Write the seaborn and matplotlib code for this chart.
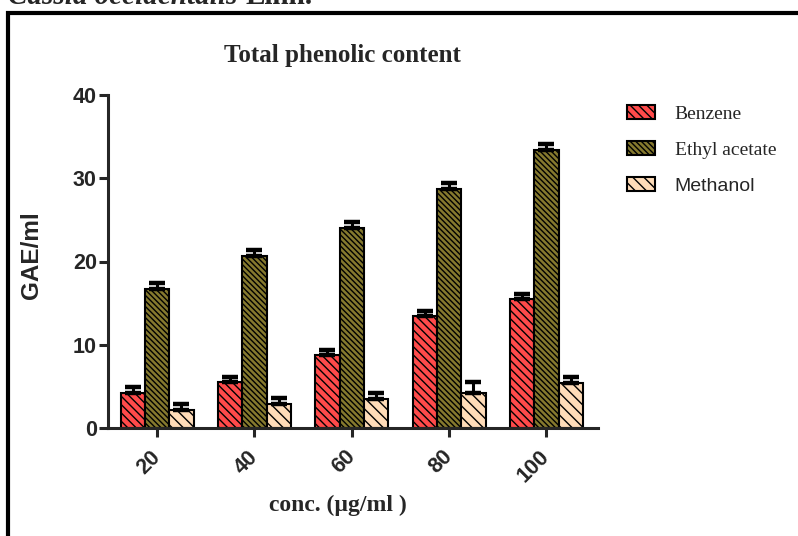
import matplotlib
matplotlib.use("Agg")
import matplotlib.pyplot as plt
import seaborn as sns
import pandas as pd
from matplotlib.patches import Rectangle

# ---- data ----
concentrations = ["20", "40", "60", "80", "100"]
solvents = ["Benzene", "Ethyl acetate", "Methanol"]
benzene = [4.2, 5.5, 8.8, 13.5, 15.5]
ethyl_acetate = [16.7, 20.7, 24.0, 28.7, 33.4]
methanol = [2.2, 2.9, 3.5, 4.2, 5.4]
benzene_err = [0.7, 0.6, 0.6, 0.5, 0.6]
ethyl_acetate_err = [0.7, 0.7, 0.7, 0.7, 0.7]
methanol_err = [0.7, 0.7, 0.7, 1.3, 0.7]
y_ticks = [0, 10, 20, 30, 40]

colors = ["#FF4A4A", "#85792E", "#FFDCB8"]
hatches = ["\\\\\\\\", "\\\\\\\\\\\\", "\\\\\\"]

values = [benzene, ethyl_acetate, methanol]
errors = [benzene_err, ethyl_acetate_err, methanol_err]
rows = []
for s, vals in zip(solvents, values):
    for c, v in zip(concentrations, vals):
        rows.append({"conc": c, "solvent": s, "value": v})
df = pd.DataFrame(rows)

sns.set_style("ticks")
plt.rcParams["hatch.linewidth"] = 1.0
plt.rcParams["font.family"] = ["Liberation Sans", "DejaVu Sans"]

W, H = 798, 536
fig = plt.figure(figsize=(W / 100, H / 100), dpi=100)
ax = fig.add_axes([108 / W, 1 - 428 / H, 490 / W, 333 / H])

sns.barplot(data=df, x="conc", y="value", hue="solvent", order=concentrations,
            hue_order=solvents, palette=colors, errorbar=None, width=0.75,
            saturation=1, edgecolor="black", linewidth=1.5, legend=False, ax=ax)

bar_containers = list(ax.containers)
for i, cont in enumerate(bar_containers):
    xs, ys = [], []
    for p in cont.patches:
        p.set_hatch(hatches[i])
        p.set_edgecolor("black")
        xs.append(p.get_x() + p.get_width() / 2)
        ys.append(p.get_height())
    ax.errorbar(xs, ys, yerr=[[0] * len(xs), errors[i]], fmt="none",
                ecolor="black", elinewidth=2.2, capsize=5.5, capthick=3.2, zorder=1)

ax.set_ylim(0, 40)
ax.set_yticks(y_ticks)
ax.set_xlim(-0.505, 4.53)
sns.despine(ax=ax)
for sp in ["left", "bottom"]:
    ax.spines[sp].set_linewidth(2.2)
ax.tick_params(axis="both", length=6.5, width=2.2, labelsize=15.5)
ax.tick_params(axis="y", pad=1.5)
ax.tick_params(axis="x", pad=12)
for lab in ax.get_yticklabels():
    lab.set_fontweight("bold")
ax.set_xticks(range(len(concentrations)))
ax.set_xticklabels(concentrations, rotation=45, ha="right", va="center",
                   rotation_mode="anchor", fontweight="bold")
ax.set_xlabel("")
ax.set_ylabel("GAE/ml", fontsize=17.5, fontweight="bold")
ax.yaxis.set_label_coords(-(108 - 43) / 490, (428 - 255) / 333)

fig.text(338 / W, 1 - 505 / H, "conc. (\u00b5g/ml )", ha="center", va="center",
         fontsize=17, fontweight="bold", family="Liberation Serif")
fig.text(342 / W, 1 - 62 / H, "Total phenolic content", ha="center", va="baseline",
         fontsize=18, fontweight="bold", family="Liberation Serif")

# caption (cut at top) and frame
fig.text(8 / W, 1 - 4.5 / H, "Cassia occidentalis", ha="left", va="baseline",
         fontsize=21, fontweight="bold", style="italic", family="Liberation Serif")
fig.text(313 / W, 1 - 4.5 / H, "Linn.", ha="right", va="baseline",
         fontsize=21, fontweight="bold", family="Liberation Serif")
fig.patches.append(Rectangle((8 / W, -0.1), 1.2, 1.1 - 13 / H, transform=fig.transFigure,
                             fill=False, edgecolor="black", linewidth=3))

handles = [cont.patches[0] for cont in bar_containers]
leg = ax.legend(handles, solvents, loc="upper left", bbox_to_anchor=(627 / W, 1 - 105 / H),
                bbox_transform=fig.transFigure, frameon=False, fontsize=14,
                handlelength=1.45, handleheight=0.7, handletextpad=1.0,
                labelspacing=0.95, borderpad=0, borderaxespad=0)
for t, fam in zip(leg.get_texts(), ["Liberation Serif", "Liberation Serif", "Liberation Sans"]):
    t.set_family(fam)

fig.savefig("out.png", dpi=100)
